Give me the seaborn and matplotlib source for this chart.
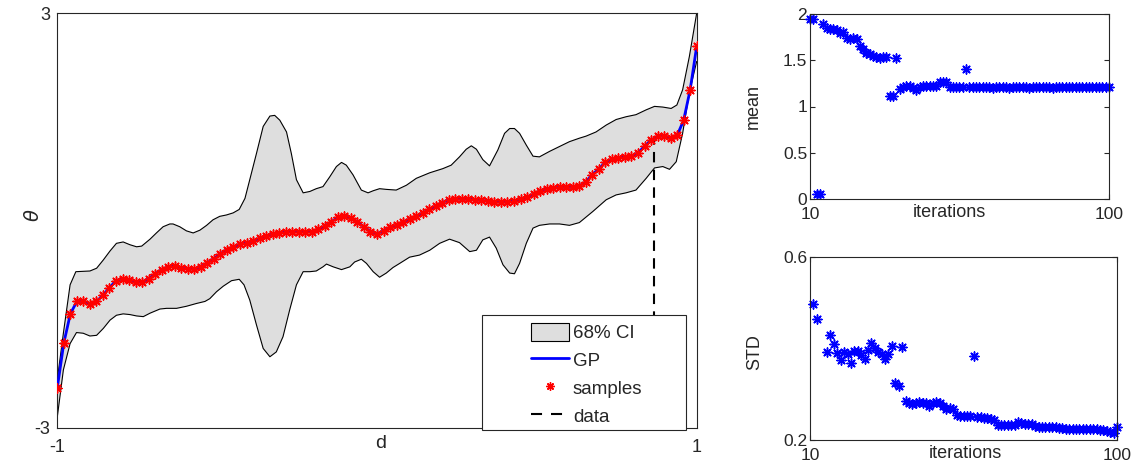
import numpy as np
import matplotlib
matplotlib.use("Agg")
import matplotlib.pyplot as plt
import seaborn as sns
from matplotlib.lines import Line2D
from matplotlib.patches import Patch, Rectangle

# ---------------- data ----------------
d_samples = np.linspace(-1, 1, 99)
gp_mean = [-2.42, -1.77, -1.35, -1.17, -1.17, -1.21, -1.17, -1.08, -0.97, -0.87,
           -0.84, -0.86, -0.89, -0.89, -0.84, -0.77, -0.71, -0.67, -0.66, -0.69,
           -0.70, -0.70, -0.67, -0.61, -0.55, -0.48, -0.42, -0.38, -0.34, -0.32,
           -0.29, -0.26, -0.23, -0.19, -0.18, -0.16, -0.16, -0.16, -0.16, -0.16,
           -0.13, -0.08, -0.02, 0.05, 0.07, 0.04, -0.02, -0.09, -0.16, -0.19,
           -0.15, -0.10, -0.07, -0.02, 0.02, 0.06, 0.11, 0.16, 0.21, 0.26,
           0.30, 0.31, 0.31, 0.31, 0.30, 0.29, 0.28, 0.27, 0.27, 0.27,
           0.28, 0.31, 0.34, 0.38, 0.43, 0.46, 0.47, 0.48, 0.48, 0.48,
           0.50, 0.56, 0.66, 0.75, 0.84, 0.89, 0.91, 0.92, 0.93, 0.98,
           1.07, 1.16, 1.22, 1.22, 1.19, 1.23, 1.45, 1.89, 2.52]

upper_d = [-1.0, -0.981, -0.960, -0.942, -0.898, -0.877, -0.856, -0.835, -0.815, -0.794,
           -0.773, -0.752, -0.736, -0.710, -0.690, -0.669, -0.648, -0.638, -0.617, -0.596,
           -0.575, -0.554, -0.533, -0.513, -0.492, -0.471, -0.450, -0.431, -0.413, -0.398,
           -0.377, -0.356, -0.335, -0.320, -0.304, -0.283, -0.268, -0.252, -0.231, -0.210,
           -0.190, -0.169, -0.148, -0.127, -0.111, -0.096, -0.075, -0.049, -0.028, -0.012,
           0.008, 0.029, 0.060, 0.092, 0.123, 0.165, 0.206, 0.232, 0.258, 0.279,
           0.295, 0.311, 0.331, 0.352, 0.378, 0.399, 0.415, 0.430, 0.446, 0.467,
           0.488, 0.508, 0.540, 0.571, 0.602, 0.633, 0.654, 0.685, 0.717, 0.748,
           0.779, 0.810, 0.842, 0.868, 0.894, 0.920, 0.938, 0.956, 0.977, 1.0]
upper_theta = [-2.30, -1.63, -0.93, -0.74, -0.73, -0.69, -0.57, -0.44, -0.33, -0.31,
               -0.35, -0.38, -0.37, -0.27, -0.18, -0.09, -0.05, -0.05, -0.09, -0.15,
               -0.18, -0.14, -0.07, 0.01, 0.06, 0.08, 0.11, 0.16, 0.32, 0.59,
               0.97, 1.36, 1.51, 1.52, 1.45, 1.28, 0.97, 0.59, 0.40, 0.42,
               0.46, 0.49, 0.63, 0.78, 0.84, 0.80, 0.66, 0.44, 0.40, 0.43,
               0.46, 0.45, 0.44, 0.51, 0.61, 0.69, 0.75, 0.80, 0.92, 1.03,
               1.08, 1.03, 0.88, 0.79, 1.02, 1.26, 1.33, 1.33, 1.26, 1.09,
               0.93, 0.92, 1.00, 1.07, 1.14, 1.19, 1.22, 1.28, 1.38, 1.46,
               1.50, 1.53, 1.60, 1.65, 1.64, 1.62, 1.67, 1.89, 2.37, 3.00]

lower_d = [-1.0, -0.981, -0.960, -0.940, -0.919, -0.898, -0.877, -0.856, -0.835, -0.815,
           -0.794, -0.773, -0.752, -0.731, -0.710, -0.679, -0.658, -0.627, -0.596, -0.565,
           -0.538, -0.523, -0.502, -0.481, -0.455, -0.431, -0.416, -0.398, -0.377, -0.356,
           -0.335, -0.315, -0.294, -0.273, -0.252, -0.231, -0.210, -0.190, -0.169, -0.158,
           -0.137, -0.111, -0.085, -0.070, -0.049, -0.033, -0.012, 0.008, 0.029, 0.050,
           0.071, 0.102, 0.133, 0.165, 0.196, 0.227, 0.258, 0.290, 0.311, 0.331,
           0.352, 0.373, 0.394, 0.415, 0.430, 0.446, 0.467, 0.488, 0.508, 0.540,
           0.571, 0.602, 0.633, 0.675, 0.717, 0.748, 0.779, 0.810, 0.842, 0.868,
           0.894, 0.915, 0.936, 0.956, 0.977, 1.0]
lower_theta = [-2.84, -2.16, -1.78, -1.62, -1.63, -1.67, -1.66, -1.56, -1.44, -1.37,
               -1.35, -1.36, -1.38, -1.39, -1.34, -1.28, -1.27, -1.27, -1.24, -1.20,
               -1.17, -1.13, -1.03, -0.95, -0.87, -0.85, -0.93, -1.15, -1.51, -1.85,
               -1.97, -1.90, -1.68, -1.29, -0.93, -0.74, -0.74, -0.73, -0.67, -0.63,
               -0.67, -0.71, -0.67, -0.60, -0.56, -0.62, -0.74, -0.82, -0.76, -0.68,
               -0.62, -0.53, -0.50, -0.43, -0.33, -0.27, -0.32, -0.45, -0.43, -0.28,
               -0.24, -0.40, -0.64, -0.76, -0.77, -0.62, -0.33, -0.11, -0.07, -0.05,
               -0.05, -0.07, -0.03, 0.13, 0.30, 0.37, 0.40, 0.44, 0.61, 0.76,
               0.78, 0.74, 0.85, 1.26, 1.85, 2.30]

data_d = [0.866]
data_theta = [1.15]

iterations = np.arange(10, 101)
mean_vals = [1.95, 1.95, 0.05, 0.05, 1.89, 1.85, 1.84, 1.84, 1.83, 1.80,
             1.81, 1.74, 1.73, 1.74, 1.73, 1.65, 1.62, 1.58, 1.57, 1.55,
             1.53, 1.52, 1.53, 1.53, 1.11, 1.11, 1.52, 1.19, 1.21, 1.22,
             1.22, 1.20, 1.18, 1.21, 1.22, 1.22, 1.22, 1.22, 1.22, 1.27,
             1.27, 1.27, 1.21, 1.21, 1.21, 1.21, 1.21, 1.41, 1.21, 1.21,
             1.21, 1.21, 1.21, 1.21, 1.21, 1.20, 1.21, 1.21, 1.21, 1.21,
             1.20, 1.21, 1.21, 1.21, 1.21, 1.21, 1.20, 1.21, 1.21, 1.21,
             1.21, 1.21, 1.21, 1.20, 1.21, 1.21, 1.21, 1.21, 1.21, 1.21,
             1.21, 1.21, 1.21, 1.21, 1.21, 1.21, 1.21, 1.21, 1.21, 1.21, 1.21]

std_iterations = np.arange(11, 101)
std_vals = [0.498, 0.464, np.nan, np.nan, 0.393, 0.429, 0.409, 0.390, 0.375, 0.393,
            0.389, 0.369, 0.394, 0.394, 0.385, 0.376, 0.396, 0.412, 0.402, 0.393,
            0.388, 0.378, 0.389, 0.406, 0.325, 0.318, 0.404, 0.286, 0.281, 0.279,
            0.280, 0.284, 0.281, 0.281, 0.274, 0.280, 0.284, 0.280, 0.274, 0.267,
            0.269, 0.267, 0.255, 0.252, 0.252, 0.253, 0.253, 0.384, 0.251, 0.251,
            0.249, 0.247, 0.245, 0.243, 0.233, 0.233, 0.233, 0.233, 0.233, 0.232,
            0.239, 0.238, 0.235, 0.235, 0.234, 0.231, 0.229, 0.228, 0.228, 0.228,
            0.228, 0.228, 0.227, 0.227, 0.224, 0.225, 0.225, 0.224, 0.224, 0.224,
            0.224, 0.224, 0.223, 0.223, 0.222, 0.222, 0.220, 0.218, 0.216, 0.228]

# ---------------- style ----------------
sns.set_theme(style="white")
plt.rcParams["font.family"] = ["Liberation Sans", "DejaVu Sans"]
plt.rcParams["mathtext.fontset"] = "dejavusans"
AX_COL = "#262626"
ASTER = (8, 2, 0)

W, H = 1133, 467
fig = plt.figure(figsize=(W / 100, H / 100), dpi=100)
ax = fig.add_axes([57.3 / W, 1 - 428 / H, 639.4 / W, 415 / H])
ax_m = fig.add_axes([810 / W, 1 - 199 / H, 299 / W, 185 / H])
ax_s = fig.add_axes([810 / W, 1 - 440 / H, 307 / W, 183 / H])

# ---------------- left panel ----------------
poly_x = np.concatenate([upper_d, lower_d[::-1]])
poly_y = np.concatenate([upper_theta, lower_theta[::-1]])
ax.fill(poly_x, poly_y, facecolor="#dedede", edgecolor="none", zorder=1)
sns.lineplot(x=upper_d, y=upper_theta, color="black", lw=0.8, sort=False,
             estimator=None, ax=ax, zorder=2)
sns.lineplot(x=lower_d, y=lower_theta, color="black", lw=0.8, sort=False,
             estimator=None, ax=ax, zorder=2)
ax.vlines(data_d, -3, data_theta, colors="black", linestyles=(0, (5, 3.5)),
          lw=1.5, zorder=2)
sns.lineplot(x=d_samples, y=gp_mean, color="blue", lw=2, sort=False,
             estimator=None, ax=ax, zorder=3)
sns.scatterplot(x=d_samples, y=gp_mean, marker=ASTER, color="red", s=42,
                linewidth=1.1, ax=ax, zorder=4)

ax.set_xlim(-1, 1)
ax.set_ylim(-3, 3)
ax.set_xticks([-1, 1])
ax.set_xticklabels(["-1", "1"])
ax.set_yticks([-3, 3])
ax.set_yticklabels(["-3", "3"])
ax.tick_params(axis="x", direction="in", length=0, labelsize=13, pad=8, colors=AX_COL)
ax.tick_params(axis="y", direction="in", length=0, labelsize=13, pad=5, colors=AX_COL)
ax.set_xlabel("d", fontsize=14, color=AX_COL)
ax.xaxis.set_label_coords(0.505, -0.016)
ax.set_ylabel(r"$\theta$", fontsize=14, color=AX_COL)
ax.yaxis.set_label_coords(-0.038, 0.513)
ax.yaxis.label.set_va("center")

# legend
box = Rectangle((481.7 / W, 1 - 430 / H), (686 - 481.7) / W, (430 - 315) / H,
                transform=fig.transFigure, facecolor="white", edgecolor=AX_COL,
                lw=0.8, zorder=4.5, clip_on=False)
ax.add_patch(box)
handles = [Patch(facecolor="#dedede", edgecolor="black", lw=0.8),
           Line2D([], [], color="blue", lw=2),
           Line2D([], [], marker=ASTER, color="red", ls="", ms=6, mew=1),
           Line2D([], [], color="black", lw=1.5, ls=(0, (5.3, 4.3)))]
labels = ["68% CI", "GP", "samples", "data"]
leg = ax.legend(handles, labels, loc="upper left",
                bbox_to_anchor=(530.7 / W, 1 - 322.5 / H), bbox_transform=fig.transFigure,
                frameon=False, borderpad=0, borderaxespad=0, handlelength=2.05,
                handleheight=1.16, handletextpad=0.2, labelspacing=0.43, fontsize=13.5)
leg.set_zorder(6)
for t in leg.get_texts():
    t.set_color(AX_COL)

# ---------------- right panels ----------------
sns.scatterplot(x=iterations, y=mean_vals, marker=ASTER, color="blue", s=42,
                linewidth=1.1, ax=ax_m)
ax_m.collections[-1].set_clip_on(False)
ax_m.set_xlim(10, 100)
ax_m.set_ylim(0, 2)
ax_m.set_xticks([10, 100])
ax_m.set_xticklabels(["10", "100"])
ax_m.set_yticks([0, 0.5, 1, 1.5, 2])
ax_m.set_yticklabels(["0", "0.5", "1", "1.5", "2"])
ax_m.set_xlabel("iterations", fontsize=13, color=AX_COL)
ax_m.xaxis.set_label_coords(0.465, -0.027)
ax_m.set_ylabel("mean", fontsize=13, color=AX_COL)
ax_m.yaxis.set_label_coords(-0.19, 0.5)
ax_m.yaxis.label.set_va("center")

sns.scatterplot(x=std_iterations, y=std_vals, marker=ASTER, color="blue", s=42,
                linewidth=1.1, ax=ax_s)
ax_s.collections[-1].set_clip_on(False)
ax_s.set_xlim(10, 100)
ax_s.set_ylim(0.2, 0.6)
ax_s.set_xticks([10, 100])
ax_s.set_xticklabels(["10", "100"])
ax_s.set_yticks([0.2, 0.6])
ax_s.set_yticklabels(["0.2", "0.6"])
ax_s.set_xlabel("iterations", fontsize=13, color=AX_COL)
ax_s.xaxis.set_label_coords(0.507, -0.027)
ax_s.set_ylabel("STD", fontsize=13, color=AX_COL)
ax_s.yaxis.set_label_coords(-0.181, 0.48)
ax_s.yaxis.label.set_va("center")

for a in (ax_m, ax_s):
    a.tick_params(axis="x", direction="in", length=3.5, width=0.8, top=True, bottom=True,
                  labelsize=12.5, pad=5.5, colors=AX_COL)
    a.tick_params(axis="y", direction="in", length=3.5, width=0.8, left=True, right=True,
                  labelsize=12.5, pad=2, colors=AX_COL)

for a in (ax, ax_m, ax_s):
    for sp in a.spines.values():
        sp.set_visible(True)
        sp.set_color(AX_COL)
        sp.set_linewidth(0.8)

fig.savefig("out.png", dpi=100)
